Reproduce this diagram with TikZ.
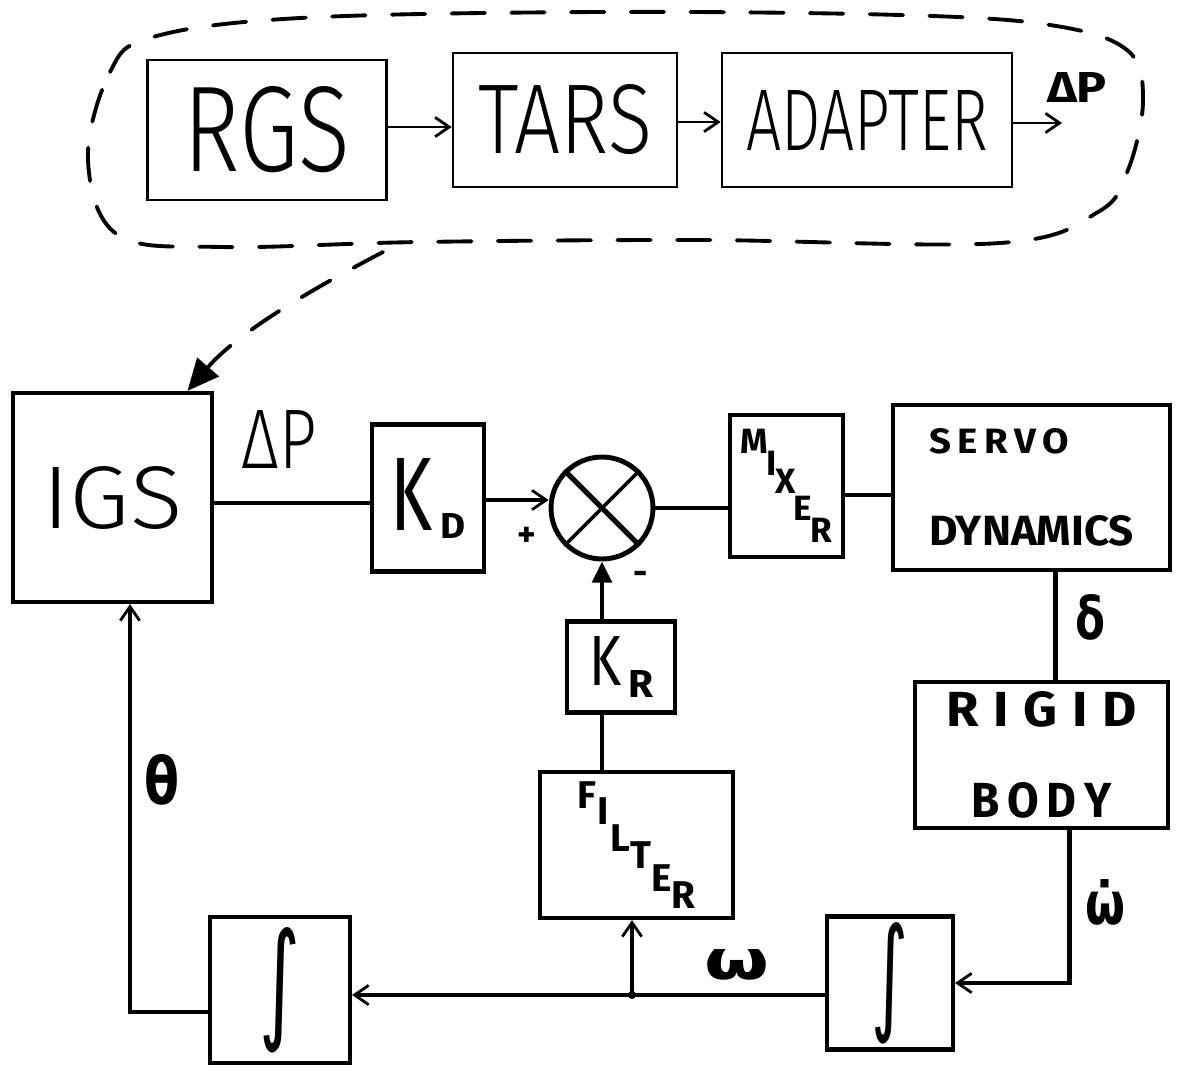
\documentclass[tikz,border=0pt]{standalone}
\usepackage{fontspec}
\setmainfont{Fira Sans}
\newfontfamily\thinhand{Fira Sans Light}
\newfontfamily\symhand{DejaVu Sans}
\usetikzlibrary{arrows.meta, positioning, calc}

\newcommand{\fitto}[3]{\resizebox{#1}{#2}{#3}}

\begin{document}
\begin{tikzpicture}[
        x=0.02cm, y=-0.02cm,
        >={Straight Barb[length=8pt, width=11pt, line width=1.6pt]},
        thinbox/.style={draw, line width=1.6pt, inner sep=0pt, font=\thinhand},
        block/.style={draw, line width=2.4pt, inner sep=0pt, font=\bfseries},
        thinline/.style={line width=1.6pt},
        wire/.style={line width=2.4pt},
        lbl/.style={inner sep=0pt, font=\bfseries},
        greek/.style={inner sep=0pt, font=\symhand\bfseries},
        cloud/.style={line width=2.2pt, line cap=round, dash pattern=on 19pt off 15pt}
    ]
        \useasboundingbox (0,0) rectangle (1183,1072);

        % Top row (inside the dashed cloud)
        \node[thinbox, minimum width=4.78cm, minimum height=2.8cm] (rgs) at (267,130) {\fitto{3.34cm}{1.7cm}{RGS}};
        \node[thinbox, minimum width=4.48cm, minimum height=2.68cm] (tars) at (565,120) {\fitto{3.48cm}{1.38cm}{TARS}};
        \node[thinbox, minimum width=5.8cm, minimum height=2.68cm] (adapter) at (867,120) {\fitto{4.84cm}{1.2cm}{ADAPTER}};
        \coordinate (dpout) at (1062,123);
        \node[lbl] (dptop) at (1077,87) {\fitto{1.2cm}{0.6cm}{ΔP}};

        \draw[thinline, ->] (rgs.east |- 0,127) -- (tars.west |- 0,127);
        \draw[thinline, ->] (tars.east |- 0,122) -- (adapter.west |- 0,122);
        \draw[thinline, ->] (adapter.east |- dpout) -- (dpout);

        % Dashed cloud
        \draw[cloud] plot[smooth cycle, tension=0.6] coordinates {(88,160) (110,72) (153,37) (300,18) (600,12) (900,15) (1050,25) (1127,50) (1143,100) (1128,170) (1098,212) (1000,243) (700,240) (420,242) (222,247) (118,235)};
        \coordinate (cloudout) at (383,252);

        % Main loop
        \node[thinbox, line width=2.4pt, minimum width=3.98cm, minimum height=4.18cm] (igs) at (112.5,497.5) {\fitto{2.8cm}{1.24cm}{IGS}};
        \node[lbl, font=\thinhand] (dp) at (279,439) {\fitto{1.5cm}{1.16cm}{ΔP}};
        \node[block, minimum width=2.24cm, minimum height=2.94cm] (kd) at (428,498) {\mdseries\fitto{0.84cm}{1.44cm}{K}\kern0.16cm\raisebox{-0.16cm}{\bfseries\fitto{0.5cm}{0.5cm}{D}}};
        \node[draw, circle, line width=2.8pt, minimum size=2.04cm, inner sep=0pt] (sum) at (602,508) {};
        \draw[line width=3pt] (sum.north west) -- (sum.south east);
        \draw[line width=2pt] (sum.north east) -- (sum.south west);
        \node[lbl] (plus) at (527,537) {\fontsize{20}{20}\selectfont +};
        \node[lbl] (minus) at (641,578) {\fontsize{20}{20}\selectfont -};

        \node[block, minimum width=2.26cm, minimum height=2.84cm] (mixer) at (786.5,486) {\fontsize{20}{20}\selectfont M\kern-1pt\raisebox{-0.44cm}{I}\kern-1pt\raisebox{-0.8cm}{X}\kern-1pt\raisebox{-1.34cm}{E}\kern-1pt\raisebox{-1.78cm}{R}};
        \node[block, minimum width=5.54cm, minimum height=3.3cm, align=left] (servo) at (1031.5,487.5) {\fontsize{10}{12}\selectfont\fitto{2.8cm}{0.5cm}{S\,E\,R\,V\,O}\\[1.18cm]\fitto{4.1cm}{0.6cm}{DYNAMICS}};
        \node[greek] (delta) at (1090,617) {\fitto{0.6cm}{0.9cm}{δ}};
        \node[block, minimum width=5.06cm, minimum height=2.92cm, align=center] (rigid) at (1041.5,755) {\fontsize{10}{12}\selectfont\fitto{3.8cm}{0.7cm}{R\;I\;G\;I\;D}\\[1.08cm]\fitto{2.8cm}{0.7cm}{B\,O\,D\,Y}};
        \node[greek] (omegadot) at (1105,902) {\fitto{0.8cm}{0.9cm}{ω̇}};

        \node[block, minimum width=2.52cm, minimum height=2.66cm] (intR) at (890,983) {\symhand\mdseries\fitto{0.74cm}{1.9cm}{∫}};
        \node[block, minimum width=2.8cm, minimum height=2.92cm] (intL) at (280,990) {\symhand\mdseries\fitto{0.82cm}{1.96cm}{∫}};
        \node[greek] (omega) at (737,965) {\fitto{1.3cm}{0.6cm}{ω}};
        \node[greek] (theta) at (162,780) {\fitto{0.7cm}{1.0cm}{θ}};

        \node[block, minimum width=3.86cm, minimum height=2.92cm] (filter) at (636.5,845) {\fontsize{22}{22}\selectfont F\kern1pt\raisebox{-0.32cm}{I}\kern1pt\raisebox{-0.86cm}{L}\raisebox{-1.2cm}{T}\raisebox{-1.66cm}{E}\raisebox{-2.0cm}{R}};
        \node[block, minimum width=2.16cm, minimum height=1.82cm] (kr) at (621,667) {\mdseries\fitto{0.64cm}{0.98cm}{K}\kern0.14cm\raisebox{-0.24cm}{\bfseries\fitto{0.5cm}{0.54cm}{R}}};
        \coordinate (jn) at (632,995);

        % Arrows
        \draw[cloud, -{Triangle[length=18pt, width=16pt]}] (cloudout) .. controls (320,285) and (240,330) .. ([xshift=1.5cm]igs.north);
        \draw[wire] (igs.east |- 0,503) -- (kd.west |- 0,503);
        \draw[wire, ->] (kd.east |- 0,500) -- (sum.west |- 0,500);
        \draw[wire] (sum.east) -- (sum.east -| mixer.west);
        \draw[wire] (mixer.east |- 0,495) -- (servo.west |- 0,495);
        \draw[wire] ([xshift=0.48cm]servo.south) -- ([xshift=0.48cm]servo.south |- rigid.north);
        \draw[wire, ->] ([xshift=0.56cm]rigid.south) |- (intR.east);
        \draw[wire, ->] (intR.west |- jn) -- (intL.east |- jn);
        \fill (jn) circle (4);
        \draw[wire, ->] (jn) -- (jn |- filter.south);
        \draw[wire] (filter.north -| sum.south) -- (kr.south -| sum.south);
        \draw[wire, -{Triangle[length=12pt, width=11pt]}] (kr.north -| sum.south) -- (sum.south);
        \draw[wire, ->] (intL.west |- 0,1012) -| ([xshift=0.35cm]igs.south);

    \end{tikzpicture}
\end{document}
